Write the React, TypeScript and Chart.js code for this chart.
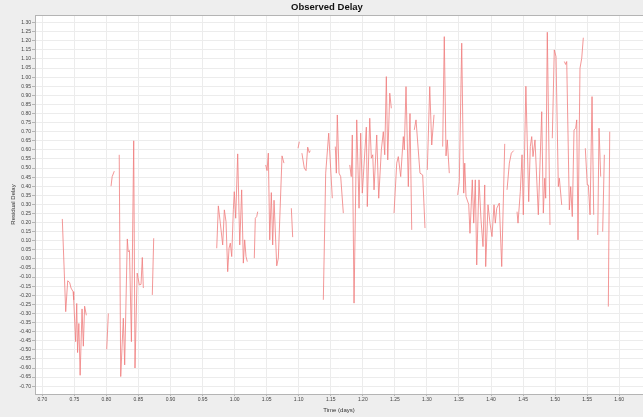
import React, { useEffect, useRef } from "react";
import { Chart, registerables } from "chart.js";

Chart.register(...registerables);

// null marks a break in the observed series
const days: (number | null)[] = [
  0.7312, 0.7365, 0.7396, 0.7427, 0.7448, 0.748, 0.749, 0.752, 0.7537, 0.755, 0.757, 0.759, 0.762, 0.764, 0.766, 0.7687,
  null,
  0.8005, 0.803,
  null,
  0.8072, 0.809, 0.8123,
  null,
  0.82, 0.8223, 0.8264, 0.8285, 0.8326, 0.834, 0.836, 0.839, 0.8426, 0.8446, 0.848, 0.8514, 0.854, 0.856, 0.8576,
  null,
  0.8716, 0.8738,
  null,
  0.9721, 0.9746, 0.9777, 0.9814, 0.984, 0.9866, 0.9892, 0.9913, 0.9933, 0.9955, 0.998, 0.9995, 1.0017, 1.0048, 1.008, 1.011, 1.0136, 1.0157, 1.0178, 1.0198,
  null,
  1.0307, 1.0323, 1.0345, 1.036,
  null,
  1.0485, 1.0506, 1.0526, 1.0548, 1.0573, 1.0594, 1.0615, 1.0657, 1.0682, 1.074, 1.077,
  null,
  1.0885, 1.0906,
  null,
  1.0989, 1.101,
  null,
  1.105, 1.1087, 1.1114, 1.114, 1.1165, 1.118,
  null,
  1.1384, 1.1421, 1.1468, 1.1524,
  null,
  1.1571, 1.1587, 1.1602, 1.1629, 1.1655, 1.1696,
  null,
  1.1796, 1.182, 1.1836, 1.1863, 1.1905, 1.1941, 1.1967, 1.1992, 1.2055, 1.207, 1.2108, 1.2133, 1.2155, 1.2175, 1.2217, 1.2248, 1.2289, 1.232, 1.2342, 1.2367, 1.2389, 1.242, 1.2445,
  null,
  1.2487, 1.2529, 1.2554, 1.2591, 1.2632, 1.2647, 1.2674, 1.271, 1.2736, 1.2763,
  null,
  1.2803, 1.283, 1.2892, 1.2934, 1.297,
  null,
  1.3006, 1.3044, 1.3075, 1.3111,
  null,
  1.3246, 1.3271, 1.3298, 1.3318, 1.3349,
  null,
  1.348, 1.3505, 1.3543, 1.3574, 1.359, 1.361, 1.3652, 1.3672, 1.3708, 1.373, 1.3755, 1.3777, 1.3813, 1.3844, 1.3875, 1.3902, 1.3917, 1.3953, 1.3984, 1.4015, 1.4047, 1.4067, 1.4089, 1.4129, 1.4167, 1.4214,
  null,
  1.425, 1.4286, 1.4317, 1.4354,
  null,
  1.4406, 1.4421, 1.4457, 1.4484, 1.4504, 1.4544, 1.4588, 1.4613, 1.4635, 1.4655, 1.4686, 1.4738, 1.4791, 1.4816, 1.4838, 1.4853, 1.4878, 1.492,
  null,
  1.4956, 1.4987, 1.5014, 1.505, 1.5066, 1.5103,
  null,
  1.5144, 1.5165, 1.5181, 1.5222, 1.5243, 1.5268, 1.5295, 1.5321, 1.5337, 1.5357, 1.5388, 1.5415, 1.544,
  null,
  1.5471, 1.5502, 1.5518, 1.5545, 1.5576, 1.5602,
  null,
  1.5665, 1.5685, 1.5711,
  null,
  1.5742, 1.5768,
  null,
  1.583, 1.5852,
];

const delay: (number | null)[] = [
  0.22, -0.29, -0.12, -0.13, -0.16, -0.18, -0.225, -0.455, -0.245, -0.515, -0.355, -0.64, -0.275, -0.48, -0.26, -0.31,
  null,
  -0.497, -0.3,
  null,
  0.4, 0.453, 0.483,
  null,
  0.573, -0.647, -0.326, -0.583, 0.11, 0.04, 0.046, -0.455, 0.65, -0.6, -0.078, -0.143, -0.14, 0.008, -0.16,
  null,
  -0.198, 0.114,
  null,
  0.059, 0.292, 0.197, 0.077, 0.27, 0.205, -0.07, 0.059, 0.087, 0.013, 0.27, 0.37, 0.224, 0.578, 0.077, 0.38, -0.023, 0.105, 0.013, -0.015,
  null,
  0.004, 0.224, 0.233, 0.26,
  null,
  0.517, 0.486, 0.582, 0.105, 0.365, 0.077, 0.323, -0.038, 0.004, 0.567, 0.527,
  null,
  0.279, 0.12,
  null,
  0.609, 0.645,
  null,
  0.582, 0.5, 0.486, 0.615, 0.585, 0.596,
  null,
  -0.225, 0.472, 0.692, 0.334,
  null,
  0.618, 0.472, 0.792, 0.472, 0.453, 0.252,
  null,
  0.517, 0.453, 0.682, -0.243, 0.765, 0.279, 0.692, 0.362, 0.725, 0.288, 0.774, 0.554, 0.573, 0.38, 0.682, 0.334, 0.6, 0.7, 0.573, 1.003, 0.545, 0.912, 0.829,
  null,
  0.252, 0.527, 0.563, 0.453, 0.673, 0.6, 0.948, 0.398, 0.8, 0.16,
  null,
  0.71, 0.765, 0.472, 0.462, 0.17,
  null,
  0.49, 0.948, 0.627, 0.793,
  null,
  0.618, 1.223, 0.567, 0.655, 0.472,
  null,
  0.352, 0.425, 1.187, 0.362, 0.527, 0.343, 0.3, 0.141, 0.435, 0.197, 0.435, -0.033, 0.435, 0.215, 0.068, 0.407, -0.042, 0.298, 0.197, 0.123, 0.298, 0.197, 0.279, 0.307, -0.042, 0.633,
  null,
  0.38, 0.527, 0.582, 0.596,
  null,
  0.26, 0.197, 0.37, 0.573, 0.243, 0.95, 0.315, 0.618, 0.673, 0.563, 0.655, 0.243, 0.81, 0.252, 0.444, 0.334, 1.247, 0.187,
  null,
  0.664, 1.15, 1.113, 0.398, 0.444, 0.297,
  null,
  1.086, 1.07, 1.086, 0.27, 0.398, 0.233, 0.71, 0.719, 0.765, 0.105, 1.049, 1.104, 1.217,
  null,
  0.609, 0.407, 0.407, 0.243, 0.893, 0.243,
  null,
  0.132, 0.719, 0.453,
  null,
  0.15, 0.573,
  null,
  -0.262, 0.7,
];

const xMin = 0.6886;
const xMax = 1.6371;
const yMin = -0.743;
const yMax = 1.342;
const tickStep = 0.05;

const chartTitle = "Observed Delay";
const xTitle = "Time (days)";
const yTitle = "Residual Delay";

const FONT = "'Liberation Sans', Arial, sans-serif";

const backgroundPlugin = {
  id: "bgPlugin",
  beforeDraw(chart: any) {
    const { ctx, chartArea, width, height } = chart;
    ctx.save();
    ctx.fillStyle = "#eeeeee";
    ctx.fillRect(0, 0, width, height);
    ctx.fillStyle = "#ffffff";
    ctx.fillRect(chartArea.left, chartArea.top, chartArea.right - chartArea.left, chartArea.bottom - chartArea.top);
    ctx.restore();
  },
  afterDraw(chart: any) {
    const { ctx, chartArea } = chart;
    ctx.save();
    ctx.strokeStyle = "#b4b4b4";
    ctx.lineWidth = 1;
    ctx.beginPath();
    ctx.moveTo(chartArea.left, chartArea.top + 0.5);
    ctx.lineTo(chartArea.right, chartArea.top + 0.5);
    ctx.stroke();
    ctx.fillStyle = "#111";
    ctx.font = `bold 9.5px ${FONT}`;
    ctx.textAlign = "center";
    ctx.textBaseline = "middle";
    ctx.fillText(chartTitle, 327, 7.5);
    ctx.restore();
  },
};

export default function App() {
  const ref = useRef<HTMLCanvasElement | null>(null);

  useEffect(() => {
    document.body.style.margin = "0";
    const canvas = ref.current;
    if (!canvas) return;
    const points: { x: number; y: number | null }[] = [];
    let lastX = days.find((d) => d !== null) as number;
    for (let i = 0; i < days.length; i++) {
      const d = days[i];
      if (d !== null) lastX = d;
      points.push({ x: lastX, y: d === null ? null : delay[i] });
    }
    const fmt = (v: any) => {
      const n = Number(v);
      const s = n.toFixed(2);
      return s === "-0.00" ? "0.00" : s;
    };
    const chart = new Chart(canvas, {
      type: "line",
      data: {
        datasets: [
          {
            data: points as any,
            borderColor: "rgba(240,125,125,0.8)",
            borderWidth: 1,
            pointRadius: 0,
            spanGaps: false,
            tension: 0,
          },
        ],
      },
      plugins: [backgroundPlugin],
      options: {
        animation: false,
        responsive: false,
        devicePixelRatio: 1,
        parsing: true,
        layout: { padding: { top: 15, left: 0, right: 0, bottom: 0 } },
        plugins: {
          legend: { display: false },
          title: { display: false },
          tooltip: { enabled: false },
        },
        scales: {
          x: {
            type: "linear",
            min: xMin,
            max: xMax,
            afterFit(scale: any) {
              scale.height = 23;
            },
            border: { display: true, color: "#b4b4b4", width: 1 },
            grid: { color: "#ececec", tickColor: "#b4b4b4", tickLength: 2, lineWidth: 1 },
            ticks: {
              stepSize: tickStep,
              includeBounds: false,
              autoSkip: false,
              maxRotation: 0,
              padding: 1,
              color: "#444",
              font: { family: FONT, size: 5 },
              callback: fmt,
            },
            title: {
              display: true,
              text: xTitle,
              color: "#333",
              font: { family: FONT, size: 6 },
              padding: { top: 0, bottom: 3 },
            },
          },
          y: {
            type: "linear",
            min: yMin,
            max: yMax,
            afterFit(scale: any) {
              scale.width = 35;
            },
            border: { display: true, color: "#b4b4b4", width: 1 },
            grid: { color: "#ececec", tickColor: "#b4b4b4", tickLength: 3, lineWidth: 1 },
            ticks: {
              stepSize: tickStep,
              includeBounds: false,
              autoSkip: false,
              padding: 1,
              color: "#444",
              font: { family: FONT, size: 5 },
              callback: fmt,
            },
            title: {
              display: true,
              text: yTitle,
              color: "#333",
              font: { family: FONT, size: 6 },
              padding: { top: 10, bottom: 0 },
            },
          },
        },
      },
    });
    return () => chart.destroy();
  }, []);

  return (
    <div style={{ width: 643, height: 417 }}>
      <canvas ref={ref} width={643} height={417} style={{ display: "block", width: 643, height: 417 }} />
    </div>
  );
}
